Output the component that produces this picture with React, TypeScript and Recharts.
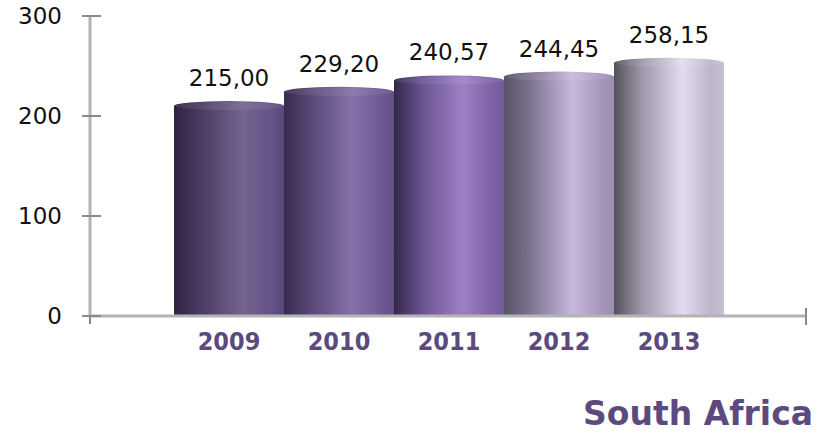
import { BarChart, Bar, XAxis, YAxis, LabelList } from "recharts";

const YEARS = ["2009", "2010", "2011", "2012", "2013"];
const VALUES = [215.0, 229.2, 240.57, 244.45, 258.15];
const Y_TICKS = [0, 100, 200, 300];

// per-bar cylinder shading, left edge -> highlight -> right edge
const SHADES = [
  ["#2c2340", "#4b3c64", "#74638f", "#66548a", "#574677"],
  ["#382b4f", "#5a4878", "#8671a9", "#6f5993", "#634f86"],
  ["#33284a", "#6a5290", "#9c81c5", "#7e63a7", "#725a9a"],
  ["#575266", "#7e7592", "#c7b8dc", "#a797bb", "#9b8db0"],
  ["#54505c", "#9d97a8", "#e3dcf0", "#bdb4c9", "#c9c1d2"],
];

const W = 823;
const H = 435;
const Y_AXIS_W = 90;
const RIGHT = 17;
const PLOT_W = W - Y_AXIS_W - RIGHT;

const AXIS = "#b3b3b3";
const TICK = "#8a8a8a";
const PURPLE = "#5c4a7e";

const data = YEARS.map((year, i) => ({ year, value: VALUES[i] }));

const fmt = (v: number) => v.toFixed(2).replace(".", ",");

function Cylinder(props: any) {
  const { x, y, width, height, index } = props;
  const ry = 5;
  return (
    <g>
      <rect x={x} y={y + ry} width={width} height={height - ry} fill={`url(#cyl${index})`} />
      <ellipse cx={x + width / 2} cy={y + ry} rx={width / 2} ry={ry} fill={`url(#cyl${index})`} />
      <ellipse cx={x + width / 2} cy={y + ry} rx={width / 2 - 1} ry={ry - 1} fill="#ffffff" fillOpacity={0.08} />
    </g>
  );
}

function YTick(props: any) {
  const { x, y, payload } = props;
  return (
    <g>
      <line x1={x - 8} x2={x + 11} y1={y} y2={y} stroke={TICK} strokeWidth={2} />
      {payload.value === 0 && (
        <>
          <line x1={x} x2={x} y1={y} y2={y + 8} stroke={TICK} strokeWidth={2} />
          {/* end tick at the right edge of the category axis */}
          <line x1={x + PLOT_W} x2={x + PLOT_W} y1={y - 8} y2={y + 9} stroke={TICK} strokeWidth={2} />
        </>
      )}
      <text x={x - 28} y={y} dy="0.36em" textAnchor="end" fontSize={23} fontFamily="DejaVu Sans" fill="#111">
        {payload.value}
      </text>
    </g>
  );
}

function XTick(props: any) {
  const { x, y, payload } = props;
  return (
    <text
      x={x}
      y={y + 34}
      textAnchor="middle"
      fontSize={25}
      fontWeight="bold"
      fontFamily="DejaVu Sans Condensed"
      fill={PURPLE}
    >
      {payload.value}
    </text>
  );
}

export default function App() {
  return (
    <div style={{ position: "absolute", left: 0, top: 0, width: W, height: H, background: "#fff" }}>
      <BarChart
        width={W}
        height={H}
        data={data}
        margin={{ top: 16, right: RIGHT, left: 0, bottom: 59 }}
        barCategoryGap={0}
      >
        <defs>
          {SHADES.map((s, i) => (
            <linearGradient key={i} id={`cyl${i}`} x1="0" y1="0" x2="1" y2="0">
              <stop offset="0%" stopColor={s[0]} />
              <stop offset="25%" stopColor={s[1]} />
              <stop offset="62%" stopColor={s[2]} />
              <stop offset="88%" stopColor={s[3]} />
              <stop offset="100%" stopColor={s[4]} />
            </linearGradient>
          ))}
        </defs>
        <XAxis
          dataKey="year"
          height={60}
          padding={{ left: 84, right: 82 }}
          axisLine={{ stroke: AXIS, strokeWidth: 3 }}
          tickLine={false}
          tickSize={0}
          tickMargin={0}
          tick={<XTick />}
          interval={0}
        />
        <YAxis
          width={Y_AXIS_W}
          domain={[0, 300]}
          ticks={Y_TICKS}
          axisLine={{ stroke: AXIS, strokeWidth: 3 }}
          tickLine={false}
          tickSize={0}
          tickMargin={0}
          tick={<YTick />}
        />
        <Bar dataKey="value" shape={<Cylinder />} isAnimationActive={false}>
          <LabelList
            dataKey="value"
            position="top"
            offset={15}
            formatter={(v: any) => fmt(Number(v))}
            style={{ fontSize: 23, fontFamily: "DejaVu Sans", fill: "#111" }}
          />
        </Bar>
      </BarChart>
      <div
        style={{
          position: "absolute",
          right: 10,
          top: 394,
          fontFamily: "DejaVu Sans",
          fontWeight: "bold",
          fontSize: 33,
          color: PURPLE,
          whiteSpace: "nowrap",
        }}
      >
        South Africa
      </div>
    </div>
  );
}
